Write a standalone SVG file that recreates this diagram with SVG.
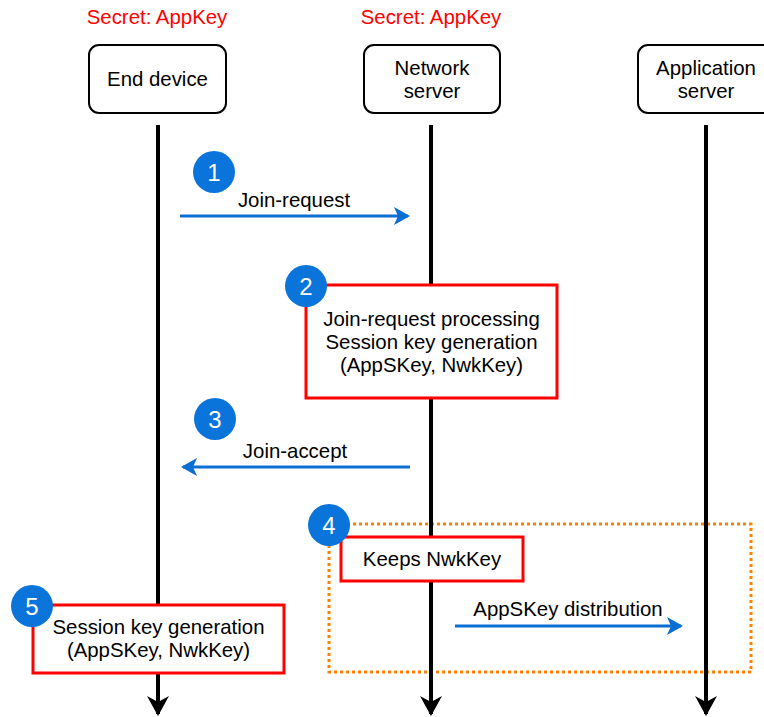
<svg xmlns="http://www.w3.org/2000/svg" width="764" height="717" viewBox="0 0 764 717">
  <style>
    text { font-family: "Liberation Sans", Arial, Helvetica, sans-serif; font-size: 20.4px; fill: #000; text-anchor: middle; }
    .secret { fill: #ff0000; }
    .node { fill: #fff; stroke: #000; stroke-width: 2; }
    .step { fill: #fff; stroke: #ff0000; stroke-width: 3; }
    .group { fill: none; stroke: #ff8000; stroke-width: 3; stroke-dasharray: 3 3; }
    .life { stroke: #000; stroke-width: 4; fill: none; }
    .msg { stroke: #0a6fd3; stroke-width: 3; fill: none; }
    .badge circle { fill: #0a74da; }
    .badge text { fill: #fff; font-size: 24px; }
  </style>
  <defs>
    <marker id="lifeHead" viewBox="0 0 20 22" refX="18" refY="11" markerWidth="20" markerHeight="22" markerUnits="userSpaceOnUse" orient="auto">
      <path d="M0,0 L20,11 L0,22 L6,11 Z" fill="#000"/>
    </marker>
    <marker id="msgHead" viewBox="0 0 16 18" refX="14" refY="9" markerWidth="16" markerHeight="18" markerUnits="userSpaceOnUse" orient="auto">
      <path d="M0,0 L16,9 L0,18 L4,9 Z" fill="#0a6fd3"/>
    </marker>
  </defs>

  <!-- group around the key distribution steps -->
  <rect id="keyDistribution" class="group" x="329" y="524" width="422" height="148"/>

  <!-- lifelines and messages -->
  <g id="connectors">
    <line class="life" x1="158" y1="125" x2="158" y2="714" marker-end="url(#lifeHead)"/>
    <line class="life" x1="431" y1="125" x2="431" y2="714" marker-end="url(#lifeHead)"/>
    <line class="life" x1="706" y1="125" x2="706" y2="714" marker-end="url(#lifeHead)"/>

    <line class="msg" x1="180" y1="216" x2="408" y2="216" marker-end="url(#msgHead)"/>
    <text x="294" y="207">Join-request</text>

    <line class="msg" x1="410" y1="467" x2="183" y2="467" marker-end="url(#msgHead)"/>
    <text x="295" y="458">Join-accept</text>

    <line class="msg" x1="455" y1="626" x2="681" y2="626" marker-end="url(#msgHead)"/>
    <text x="568" y="616">AppSKey distribution</text>
  </g>

  <!-- participants -->
  <g id="endDevice">
    <text class="secret" x="157" y="24">Secret: AppKey</text>
    <rect class="node" x="89" y="45" width="137" height="68" rx="10"/>
    <text x="157.5" y="86">End device</text>
  </g>
  <g id="networkServer">
    <text class="secret" x="431" y="24">Secret: AppKey</text>
    <rect class="node" x="364" y="45" width="136" height="68" rx="10"/>
    <text x="432" y="75">Network</text>
    <text x="432" y="98">server</text>
  </g>
  <g id="applicationServer">
    <rect class="node" x="638" y="45" width="140" height="68" rx="10"/>
    <text x="706" y="75">Application</text>
    <text x="706" y="98">server</text>
  </g>

  <!-- processing steps -->
  <g id="joinProcessing">
    <rect class="step" x="306" y="285" width="251" height="113"/>
    <text x="431.5" y="326">Join-request processing</text>
    <text x="431.5" y="349">Session key generation</text>
    <text x="431.5" y="372">(AppSKey, NwkKey)</text>
  </g>
  <g id="keepsNwkKey">
    <rect class="step" x="341" y="537" width="182" height="44"/>
    <text x="432" y="566">Keeps NwkKey</text>
  </g>
  <g id="deviceKeyGeneration">
    <rect class="step" x="33" y="605" width="251" height="68"/>
    <text x="158.5" y="634">Session key generation</text>
    <text x="158.5" y="657">(AppSKey, NwkKey)</text>
  </g>

  <!-- step numbers -->
  <g id="badge1" class="badge"><circle cx="214" cy="172" r="21"/><text x="214" y="180.5">1</text></g>
  <g id="badge2" class="badge"><circle cx="306" cy="286" r="21"/><text x="306" y="294.5">2</text></g>
  <g id="badge3" class="badge"><circle cx="215" cy="419" r="21"/><text x="215" y="427.5">3</text></g>
  <g id="badge4" class="badge"><circle cx="329" cy="525" r="21"/><text x="329" y="533.5">4</text></g>
  <g id="badge5" class="badge"><circle cx="32" cy="606" r="21"/><text x="32" y="614.5">5</text></g>
</svg>
